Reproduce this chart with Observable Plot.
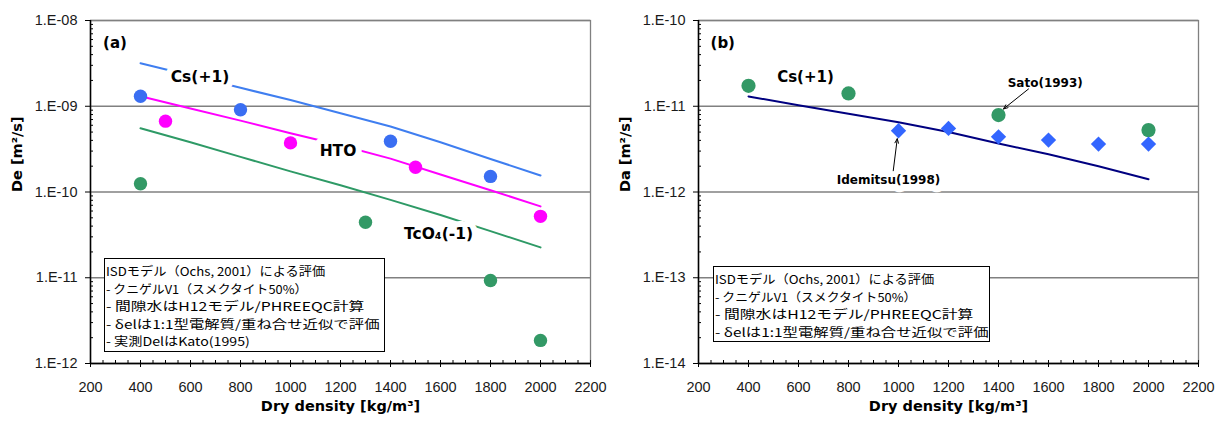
<!DOCTYPE html>
<html><head><meta charset="utf-8">
<script src="https://cdn.jsdelivr.net/npm/d3@7"></script>
<script src="https://cdn.jsdelivr.net/npm/@observablehq/plot@0.6"></script>
<style>
html,body{margin:0;padding:0;background:#fff;}
#chart{position:relative;width:1215px;height:423px;display:flex;overflow:hidden;background:#fff;}
.legend{position:absolute;background:#fff;border:1px solid #000;box-sizing:border-box;padding:3px 0 0 1px;font-family:"Noto Sans CJK JP",sans-serif;font-size:12px;line-height:17.5px;color:#000;}
.legend span{display:block;white-space:pre;transform-origin:0 50%;width:max-content;height:17.5px;}
</style></head><body><div id="chart"></div>
<script>
// ---------- data ----------
const densityModel = [400, 600, 800, 1000, 1200, 1400, 1600, 1800, 2000];
// panel (a) model De curves
const deCsModel   = [3.18e-9, 2.28e-9, 1.64e-9, 1.18e-9, 8.3e-10, 5.8e-10, 3.8e-10, 2.43e-10, 1.56e-10];
const deHtoModel  = [1.31e-9, 9.4e-10, 6.8e-10, 4.85e-10, 3.5e-10, 2.45e-10, 1.6e-10, 1.05e-10, 6.8e-11];
const deTcO4Model = [5.53e-10, 3.8e-10, 2.57e-10, 1.74e-10, 1.2e-10, 8.1e-11, 5.4e-11, 3.5e-11, 2.26e-11];
// panel (a) measured De (Kato 1995)
const csObsDensity = [400, 800, 1400, 1800];
const csObsDe      = [1.31e-9, 9.1e-10, 3.9e-10, 1.52e-10];
const htoObsDensity = [500, 1000, 1500, 2000];
const htoObsDe      = [6.7e-10, 3.74e-10, 1.94e-10, 5.2e-11];
const tco4ObsDensity = [400, 1300, 1800, 2000];
const tco4ObsDe      = [1.25e-10, 4.43e-11, 9.3e-12, 1.86e-12];
// panel (b) model Da curve
const daCsModel = [1.30e-11, 1.03e-11, 8.2e-12, 6.5e-12, 5.0e-12, 3.67e-12, 2.75e-12, 2.0e-12, 1.41e-12];
// panel (b) measured Da
const satoDensity = [400, 800, 1400, 2000];
const satoDa      = [1.73e-11, 1.41e-11, 7.9e-12, 5.27e-12];
const idemitsuDensity = [1000, 1200, 1400, 1600, 1800, 2000];
const idemitsuDa      = [5.18e-12, 5.51e-12, 4.4e-12, 4.03e-12, 3.62e-12, 3.62e-12];

// ticks
const xMajorTicks = [200, 400, 600, 800, 1000, 1200, 1400, 1600, 1800, 2000, 2200];
const xMinorTicks = [250, 300, 350, 450, 500, 550, 650, 700, 750, 850, 900, 950, 1050, 1100, 1150, 1250, 1300, 1350, 1450, 1500, 1550, 1650, 1700, 1750, 1850, 1900, 1950, 2050, 2100, 2150];
const decadesA = [1e-12, 1e-11, 1e-10, 1e-9, 1e-8];
const decadesB = [1e-14, 1e-13, 1e-12, 1e-11, 1e-10];
const minorMultipliers = [2, 3, 4, 5, 6, 7, 8, 9];

// texts
const xTitle = "Dry density [kg/m³]";
const yTitleA = "De [m²/s]";
const yTitleB = "Da [m²/s]";
const panelTagA = "(a)";
const panelTagB = "(b)";
const labelTextsA = ["Cs(+1)", "HTO", "TcO₄(-1)"];
const labelXA = [638, 1190, 1592];
const labelYA = [2.18e-9, 3.04e-10, 3.24e-11];
const labelTextsB = ["Cs(+1)"];
const labelXB = [628];
const labelYB = [2.21e-11];
const refTextsB = ["Sato(1993)", "Idemitsu(1998)"];
const refXB = [1587, 960];
const refYB = [1.85e-11, 1.38e-12];
const arrowFromX = [1520, 979];
const arrowFromY = [1.59e-11, 1.77e-12];
const arrowToX = [1420, 995];
const arrowToY = [9.3e-12, 4.18e-12];
const legendLinesA = ["ISDモデル（Ochs, 2001）による評価", "- クニゲルV1（スメクタイト50%）", "- 間隙水はH12モデル/PHREEQC計算", "- δelは1:1型電解質/重ね合せ近似で評価", "- 実測DelはKato(1995)"];
const legendLinesB = legendLinesA.slice(0, 4);
const legendWidths = [219, 201, 258, 273, 144];

// ---------- helpers ----------
const zip = (xs, ys) => xs.map((x, i) => ({x, y: ys[i]}));
const fmtE = d => { const e = Math.round(Math.log10(d)); return "1.E" + (e < 0 ? "-" : "+") + String(Math.abs(e)).padStart(2, "0"); };
const minorOf = decs => decs.slice(0, -1).flatMap(d => minorMultipliers.map(m => m * d));
const boldFont = {fontFamily: "'DejaVu Sans', Verdana, sans-serif", fontWeight: "bold"};

function axesMarks(decades, yTitle) {
  const yMin = decades[0];
  return [
    Plot.ruleX([200], {stroke: "#000", strokeWidth: 1.5}),
    Plot.ruleY([yMin], {stroke: "#000", strokeWidth: 1.5}),
    Plot.axisX({ticks: xMajorTicks, tickSize: 7, dy: -3, tickFormat: () => "", label: null, stroke: "#000"}),
    Plot.axisX({ticks: xMinorTicks, tickSize: 3, dy: -3, tickFormat: () => "", label: null, stroke: "#000"}),
    Plot.axisX({ticks: xMajorTicks, tickSize: 0, tickPadding: 18, tickFormat: d => String(d), label: null}),
    Plot.axisY({ticks: decades, tickSize: 5, tickFormat: () => "", label: null, stroke: "#000"}),
    Plot.axisY({ticks: minorOf(decades), tickSize: 3, dx: 3, tickFormat: () => "", label: null, stroke: "#000"}),
    Plot.axisY({ticks: decades, tickSize: 0, tickPadding: 13, tickFormat: fmtE, label: null}),
    Plot.text([xTitle], {text: d => d, frameAnchor: "bottom", dy: 47, fontSize: 14.5, fill: "#000", ...boldFont}),
    Plot.text([yTitle], {text: d => d, frameAnchor: "left", dx: -73, rotate: -90, fontSize: 14.5, fill: "#000", ...boldFont})
  ];
}

const baseStyle = {fontFamily: "'Liberation Sans', Arial, sans-serif", fontSize: "14.5px", color: "#1a1a1a", background: "#fff", overflow: "visible"};

// ---------- panel (a) ----------
const plotA = Plot.plot({
  width: 607, height: 423, marginLeft: 90, marginRight: 17, marginTop: 20, marginBottom: 60,
  x: {domain: [200, 2200]},
  y: {type: "log", domain: [1e-12, 1e-8]},
  style: baseStyle,
  marks: [
    Plot.ruleY(decadesA, {stroke: "#808080", strokeWidth: 1.3}),
    Plot.frame({stroke: "#808080", strokeWidth: 1.3}),
    Plot.line(zip(densityModel, deCsModel), {x: "x", y: "y", stroke: "#3f7ef0", strokeWidth: 2}),
    Plot.line(zip(densityModel, deHtoModel), {x: "x", y: "y", stroke: "#ff00ff", strokeWidth: 2}),
    Plot.line(zip(densityModel, deTcO4Model), {x: "x", y: "y", stroke: "#2e9a66", strokeWidth: 2}),
    Plot.text(labelTextsA.map((t, i) => ({t, x: labelXA[i], y: labelYA[i]})), {x: "x", y: "y", text: "t", fontSize: 15.5, fill: "#000", stroke: "#fff", strokeWidth: 12, paintOrder: "stroke", ...boldFont}),
    Plot.text([panelTagA], {text: d => d, x: () => 298, y: () => 5.4e-9, fontSize: 15, fill: "#000", ...boldFont}),
    Plot.dot(zip(csObsDensity, csObsDe), {x: "x", y: "y", r: 6.7, fill: "#3a6ef2"}),
    Plot.dot(zip(htoObsDensity, htoObsDe), {x: "x", y: "y", r: 6.7, fill: "#ff00ff"}),
    Plot.dot(zip(tco4ObsDensity, tco4ObsDe), {x: "x", y: "y", r: 6.7, fill: "#339966"}),
    ...axesMarks(decadesA, yTitleA)
  ]
});

// ---------- panel (b) ----------
const plotB = Plot.plot({
  width: 608, height: 423, marginLeft: 91, marginRight: 17, marginTop: 20, marginBottom: 60,
  x: {domain: [200, 2200]},
  y: {type: "log", domain: [1e-14, 1e-10]},
  style: baseStyle,
  marks: [
    Plot.ruleY(decadesB, {stroke: "#808080", strokeWidth: 1.3}),
    Plot.frame({stroke: "#808080", strokeWidth: 1.3}),
    Plot.line(zip(densityModel, daCsModel), {x: "x", y: "y", stroke: "#000080", strokeWidth: 2}),
    Plot.text(labelTextsB.map((t, i) => ({t, x: labelXB[i], y: labelYB[i]})), {x: "x", y: "y", text: "t", fontSize: 15, fill: "#000", ...boldFont}),
    Plot.text(refTextsB.map((t, i) => ({t, x: refXB[i], y: refYB[i]})), {x: "x", y: "y", text: "t", fontSize: 12, fill: "#000", stroke: "#fff", strokeWidth: 14, paintOrder: "stroke", ...boldFont}),
    Plot.text([panelTagB], {text: d => d, x: () => 297, y: () => 5.4e-11, fontSize: 15, fill: "#000", ...boldFont}),
    Plot.dot(zip(satoDensity, satoDa), {x: "x", y: "y", r: 7.1, fill: "#339966"}),
    Plot.dot(zip(idemitsuDensity, idemitsuDa), {x: "x", y: "y", r: 6.9, symbol: "diamond2", fill: "#3366ff"}),
    Plot.arrow(arrowFromX.map((x, i) => ({x1: x, y1: arrowFromY[i], x2: arrowToX[i], y2: arrowToY[i]})), {x1: "x1", y1: "y1", x2: "x2", y2: "y2", stroke: "#000", strokeWidth: 1, headLength: 7, headAngle: 45}),
    ...axesMarks(decadesB, yTitleB)
  ]
});

const chart = document.getElementById("chart");
chart.append(plotA, plotB);

const legendDivs = [];
function addLegend(lines, left, top, width) {
  const div = document.createElement("div");
  div.className = "legend";
  div.style.left = left + "px";
  div.style.top = top + "px";
  div.style.width = width + "px";
  div.style.height = (6 + lines.length * 17.5) + "px";
  lines.forEach(t => { const s = document.createElement("span"); s.textContent = t; div.appendChild(s); });
  chart.appendChild(div);
  legendDivs.push(div);
}
function fitLegends() {
  legendDivs.forEach(div => div.querySelectorAll("span").forEach((s, i) => {
    const w = s.offsetWidth;
    if (w > 0) s.style.transform = `scaleX(${legendWidths[i] / w})`;
  }));
}
addLegend(legendLinesA, 104, 258, 281);
addLegend(legendLinesB, 713, 266, 277);
fitLegends();
if (document.fonts && document.fonts.ready) document.fonts.ready.then(fitLegends);
</script></body></html>
